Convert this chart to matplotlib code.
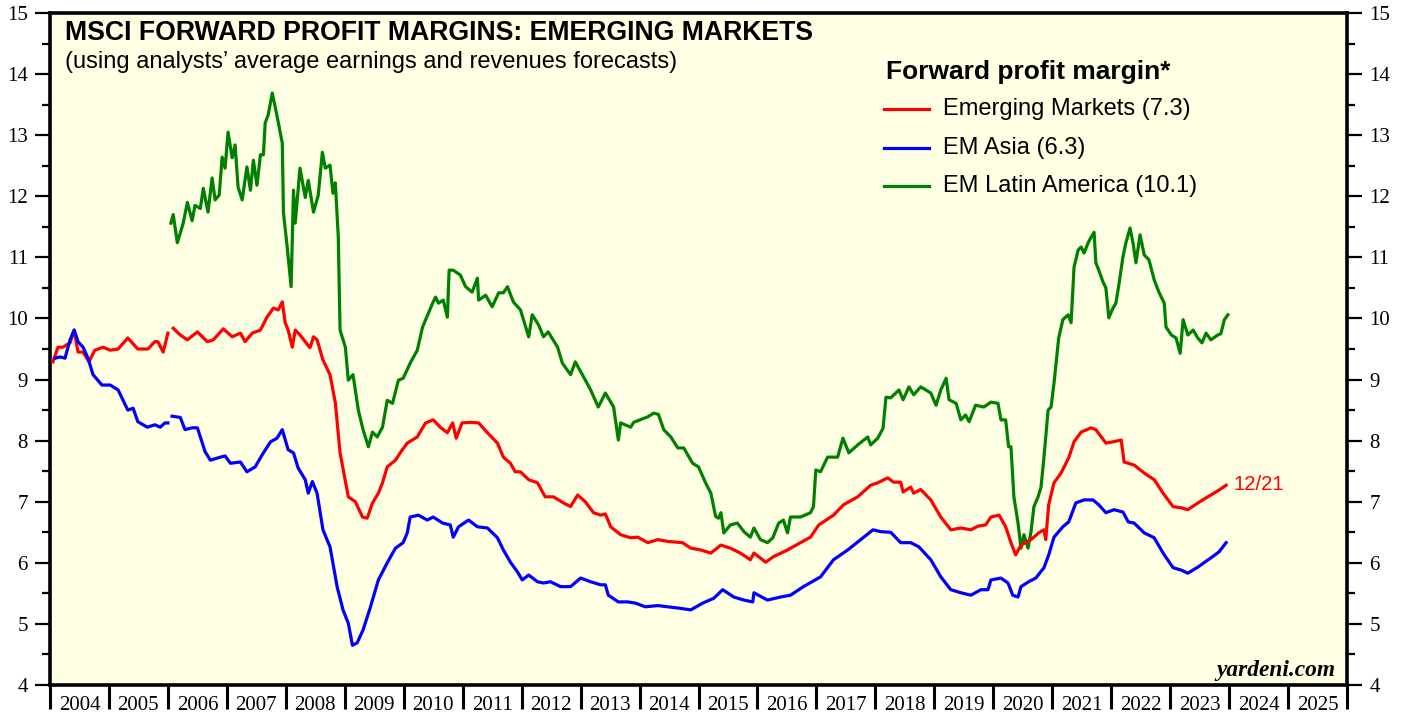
import numpy as np
import matplotlib
matplotlib.use('Agg')
import matplotlib.pyplot as plt
from matplotlib.ticker import MultipleLocator, NullFormatter, FixedLocator, FixedFormatter

em_t = [0.05, 0.136, 0.22, 0.34, 0.41, 0.475, 0.56, 0.66, 0.76, 0.90, 1.02, 1.155, 1.32, 1.49, 1.66, 1.78,
        1.83, 1.92, 2.00, 2.03, 2.09, 2.21, 2.33, 2.50, 2.67, 2.77, 2.94, 3.09, 3.23, 3.31, 3.43, 3.57, 3.68,
        3.79, 3.87, 3.94, 3.99, 4.04, 4.11, 4.16, 4.24, 4.33, 4.41, 4.47, 4.53, 4.63, 4.75, 4.84, 4.92, 5.06,
        5.18, 5.30, 5.38, 5.47, 5.57, 5.64, 5.72, 5.86, 5.94, 6.06, 6.23, 6.37, 6.50, 6.62, 6.74, 6.83, 6.89,
        6.99, 7.13, 7.27, 7.42, 7.59, 7.69, 7.81, 7.89, 7.98, 8.12, 8.27, 8.40, 8.54, 8.71, 8.83, 8.95, 9.08,
        9.22, 9.34, 9.42, 9.51, 9.68, 9.85, 9.97, 10.14, 10.31, 10.48, 10.73, 10.87, 11.04, 11.21, 11.38,
        11.54, 11.71, 11.88, 11.94, 12.14, 12.27, 12.51, 12.73, 12.90, 13.04, 13.29, 13.46, 13.70, 13.92,
        14.04, 14.21, 14.31, 14.43, 14.47, 14.60, 14.65, 14.77, 14.94, 15.11, 15.28, 15.45, 15.62, 15.74,
        15.87, 15.96, 16.10, 16.21, 16.30, 16.38, 16.47, 16.64, 16.77, 16.86, 16.89, 16.94, 17.03, 17.15,
        17.28, 17.37, 17.49, 17.66, 17.74, 17.91, 18.03, 18.17, 18.22, 18.39, 18.56, 18.73, 18.88, 19.05,
        19.19, 19.30, 19.47, 19.69, 19.83, 19.95]
em_v = [9.29, 9.53, 9.53, 9.60, 9.81, 9.45, 9.45, 9.29, 9.48, 9.53, 9.48, 9.50, 9.68, 9.50, 9.50, 9.62,
        9.62, 9.45, 9.76, np.nan, 9.84, 9.73, 9.65, 9.78, 9.62, 9.65, 9.83, 9.70, 9.76, 9.62, 9.76, 9.81, 10.02,
        10.17, 10.14, 10.27, 9.93, 9.81, 9.53, 9.81, 9.73, 9.62, 9.52, 9.70, 9.65, 9.32, 9.08, 8.62, 7.80, 7.08,
        7.00, 6.75, 6.73, 6.98, 7.14, 7.31, 7.57, 7.68, 7.80, 7.96, 8.06, 8.29, 8.34, 8.22, 8.13, 8.29, 8.04,
        8.29, 8.30, 8.29, 8.13, 7.96, 7.73, 7.63, 7.49, 7.49, 7.36, 7.31, 7.08, 7.08, 6.98, 6.92, 7.11, 7.00,
        6.82, 6.78, 6.80, 6.59, 6.46, 6.41, 6.42, 6.33, 6.38, 6.35, 6.33, 6.24, 6.21, 6.16, 6.29,
        6.24, 6.16, 6.05, 6.16, 6.01, 6.10, 6.21, 6.33, 6.42, 6.62, 6.78, 6.95, 7.08, 7.27,
        7.31, 7.39, 7.32, 7.32, 7.16, 7.24, 7.14, 7.20, 7.03, 6.75, 6.54, 6.57, 6.54, 6.60,
        6.62, 6.75, 6.78, 6.59, 6.33, 6.13, 6.29, 6.38, 6.49, 6.54, 6.38, 6.95, 7.31, 7.47,
        7.72, 7.98, 8.14, 8.21, 8.18, 7.96, 7.98, 8.01, 7.65, 7.60, 7.47, 7.36, 7.14, 6.92,
        6.90, 6.87, 6.98, 7.11, 7.19, 7.27]

asia_t = [0.085, 0.17, 0.255, 0.34, 0.41, 0.475, 0.56, 0.645, 0.73, 0.88, 1.02, 1.155, 1.32, 1.41, 1.49,
          1.65, 1.78, 1.87, 1.95, 2.00, 2.03, 2.07, 2.21, 2.29, 2.41, 2.50, 2.63, 2.72, 2.89, 2.97, 3.06, 3.23,
          3.34, 3.48, 3.60, 3.74, 3.85, 3.94, 4.04, 4.13, 4.21, 4.33, 4.38, 4.45, 4.53, 4.63, 4.75, 4.87, 4.97,
          5.06, 5.13, 5.21, 5.31, 5.43, 5.57, 5.72, 5.86, 5.99, 6.06, 6.11, 6.25, 6.40, 6.50, 6.66, 6.79, 6.84,
          6.93, 7.10, 7.25, 7.42, 7.59, 7.69, 7.81, 7.93, 8.01, 8.12, 8.27, 8.37, 8.49, 8.66, 8.83, 9.00, 9.17,
          9.34, 9.42, 9.47, 9.64, 9.80, 9.93, 10.10, 10.31, 10.48, 10.65, 10.87, 11.07, 11.26, 11.41, 11.60,
          11.77, 11.92, 11.94, 12.17, 12.39, 12.56, 12.78, 13.07, 13.29, 13.53, 13.75, 13.96, 14.09, 14.26,
          14.43, 14.60, 14.74, 14.94, 15.11, 15.28, 15.45, 15.62, 15.79, 15.91, 15.96, 16.13, 16.25, 16.33,
          16.42, 16.47, 16.60, 16.72, 16.86, 16.94, 17.03, 17.18, 17.28, 17.40, 17.54, 17.69, 17.79, 17.91,
          18.05, 18.20, 18.29, 18.39, 18.56, 18.73, 18.88, 19.05, 19.19, 19.30, 19.47, 19.69, 19.83, 19.95]
asia_v = [9.35, 9.37, 9.35, 9.65, 9.81, 9.62, 9.53, 9.35, 9.08, 8.91, 8.91, 8.83, 8.50, 8.53, 8.31,
          8.22, 8.26, 8.22, 8.29, 8.29, np.nan, 8.40, 8.38, 8.18, 8.21, 8.21, 7.82, 7.68, 7.73, 7.75, 7.63, 7.65,
          7.49, 7.57, 7.77, 7.98, 8.04, 8.18, 7.85, 7.80, 7.55, 7.36, 7.14, 7.33, 7.14, 6.54, 6.26, 5.61, 5.23,
          5.01, 4.65, 4.69, 4.90, 5.26, 5.72, 6.00, 6.24, 6.33, 6.49, 6.75, 6.78, 6.70, 6.75, 6.65, 6.62, 6.42,
          6.59, 6.70, 6.59, 6.57, 6.41, 6.21, 6.01, 5.85, 5.72, 5.80, 5.69, 5.67, 5.69, 5.61, 5.61, 5.75, 5.69,
          5.64, 5.64, 5.47, 5.36, 5.36, 5.34, 5.28, 5.30, 5.28, 5.26, 5.23, 5.34, 5.42, 5.56, 5.44,
          5.39, 5.36, 5.51, 5.39, 5.44, 5.47, 5.61, 5.77, 6.05, 6.21, 6.38, 6.54, 6.51, 6.50,
          6.33, 6.33, 6.26, 6.05, 5.77, 5.56, 5.51, 5.47, 5.56, 5.56, 5.72, 5.75, 5.67, 5.47,
          5.44, 5.61, 5.69, 5.75, 5.92, 6.13, 6.42, 6.59, 6.67, 6.98, 7.03, 7.03, 6.95, 6.82,
          6.87, 6.83, 6.67, 6.65, 6.49, 6.41, 6.16, 5.92, 5.88, 5.83, 5.93, 6.08, 6.18, 6.33]

latam_t = [2.05, 2.09, 2.16, 2.26, 2.33, 2.41, 2.46, 2.55, 2.60, 2.68, 2.75, 2.80, 2.87, 2.92, 2.97, 3.02,
           3.09, 3.14, 3.19, 3.26, 3.34, 3.40, 3.45, 3.51, 3.57, 3.62, 3.65, 3.70, 3.77, 3.82, 3.87, 3.94, 3.96,
           4.02, 4.09, 4.13, 4.16, 4.24, 4.33, 4.38, 4.47, 4.55, 4.62, 4.67, 4.75, 4.80, 4.84, 4.89, 4.92, 5.01,
           5.06, 5.14, 5.23, 5.31, 5.40, 5.47, 5.55, 5.64, 5.72, 5.81, 5.91, 5.99, 6.11, 6.23, 6.32, 6.49, 6.54,
           6.59, 6.67, 6.74, 6.77, 6.84, 6.96, 7.05, 7.16, 7.25, 7.27, 7.39, 7.50, 7.61, 7.69, 7.76, 7.86, 7.98,
           8.12, 8.18, 8.29, 8.37, 8.45, 8.61, 8.69, 8.83, 8.91, 9.03, 9.17, 9.30, 9.42, 9.56, 9.64, 9.68, 9.85,
           9.90, 10.14, 10.24, 10.32, 10.41, 10.53, 10.65, 10.75, 10.90, 11.00, 11.12, 11.21, 11.29, 11.34,
           11.38, 11.43, 11.54, 11.66, 11.77, 11.88, 11.94, 12.05, 12.17, 12.26, 12.36, 12.44, 12.51, 12.56,
           12.73, 12.90, 12.95, 12.99, 13.07, 13.19, 13.36, 13.45, 13.55, 13.70, 13.87, 13.92, 14.04, 14.13,
           14.18, 14.26, 14.40, 14.47, 14.57, 14.65, 14.77, 14.94, 15.03, 15.11, 15.20, 15.25, 15.37, 15.45,
           15.53, 15.59, 15.70, 15.84, 15.96, 16.08, 16.13, 16.21, 16.26, 16.30, 16.35, 16.42, 16.47, 16.52,
           16.59, 16.64, 16.69, 16.76, 16.81, 16.86, 16.93, 16.98, 17.03, 17.11, 17.18, 17.27, 17.32, 17.37,
           17.44, 17.49, 17.54, 17.61, 17.66, 17.71, 17.74, 17.79, 17.86, 17.91, 17.96, 18.03, 18.08, 18.13,
           18.20, 18.25, 18.32, 18.37, 18.42, 18.49, 18.56, 18.64, 18.73, 18.81, 18.90, 18.93, 19.02, 19.10,
           19.17, 19.22, 19.30, 19.39, 19.47, 19.54, 19.61, 19.69, 19.81, 19.86, 19.92, 19.98]
latam_v = [11.56, 11.70, 11.24, 11.56, 11.90, 11.60, 11.85, 11.80, 12.13, 11.74, 12.30, 11.94, 12.02, 12.64,
           12.46, 13.05, 12.63, 12.84, 12.15, 11.94, 12.48, 12.10, 12.59, 12.18, 12.68, 12.68, 13.20, 13.33,
           13.69, 13.46, 13.22, 12.87, 11.73, 11.20, 10.52, 12.10, 11.56, 12.46, 11.98, 12.26, 11.74, 12.02,
           12.72, 12.46, 12.51, 12.05, 12.22, 11.33, 9.81, 9.53, 8.99, 9.08, 8.50, 8.18, 7.90, 8.14, 8.06, 8.22,
           8.66, 8.61, 8.99, 9.02, 9.27, 9.48, 9.86, 10.25, 10.35, 10.25, 10.30, 10.02, 10.79, 10.79, 10.71,
           10.52, 10.43, 10.66, 10.30, 10.38, 10.19, 10.42, 10.42, 10.52, 10.27, 10.14, 9.70, 10.06, 9.89, 9.70,
           9.78, 9.53, 9.27, 9.08, 9.29, 9.08, 8.83, 8.55, 8.78, 8.55, 8.01, 8.29, 8.22, 8.30, 8.39, 8.45, 8.43,
           8.18, 8.06, 7.88, 7.88, 7.63, 7.57, 7.31, 7.14, 6.76, 6.73, 6.82, 6.49, 6.62, 6.65, 6.51, 6.42, 6.57,
           6.38, 6.33, 6.41, 6.65, 6.70, 6.49, 6.75, 6.75, 6.82, 6.92, 7.52, 7.49, 7.73, 7.73, 8.04, 7.80, 7.93,
           8.06, 7.93, 8.04, 8.20, 8.71, 8.70, 8.83, 8.67, 8.88, 8.75, 8.88, 8.78, 8.58, 8.83, 9.02, 8.67, 8.61,
           8.34, 8.42, 8.31, 8.58, 8.55, 8.63, 8.61, 8.34, 8.34, 7.90, 7.90, 7.08, 6.65, 6.24, 6.46, 6.24, 6.51,
           6.92, 7.08, 7.24, 7.73, 8.50, 8.55, 8.94, 9.68, 9.98, 10.06, 9.93, 10.84, 11.12, 11.17, 11.07, 11.24,
           11.33, 11.41, 10.91, 10.79, 10.60, 10.50, 10.01, 10.17, 10.25, 10.55, 11.01, 11.24, 11.48, 11.24,
           10.91, 11.37, 11.04, 10.96, 10.63, 10.43, 10.25, 9.86, 9.73, 9.68, 9.43, 9.98, 9.73, 9.81, 9.68, 9.60,
           9.76, 9.65, 9.73, 9.75, 9.98, 10.06]

series_labels = ['Emerging Markets (7.3)', 'EM Asia (6.3)', 'EM Latin America (10.1)']
series_colors = ['#ff0000', '#0000ff', '#008000']
year_labels = [str(y) for y in range(2004, 2026)]

BG = '#ffffe3'
SANS = 'Liberation Sans'
SERIF = 'Liberation Serif'


def main():
    fig = plt.figure(figsize=(14.05, 7.17), dpi=100)
    ax = fig.add_axes([50 / 1405, 32 / 717, 1297 / 1405, 672 / 717])
    ax.set_facecolor(BG)

    t_em = 2004 + np.array(em_t)
    t_asia = 2004 + np.array(asia_t)
    t_latam = 2004 + np.array(latam_t)
    ax.plot(t_em, em_v, color=series_colors[0], lw=2.3, zorder=3)
    ax.plot(t_asia, asia_v, color=series_colors[1], lw=2.3, zorder=3)
    ax.plot(t_latam, latam_v, color=series_colors[2], lw=2.3, zorder=2)

    ax.set_xlim(2004, 2026)
    ax.set_ylim(4, 15)

    # y ticks on both sides
    ax.yaxis.set_major_locator(MultipleLocator(1))
    ax.yaxis.set_minor_locator(MultipleLocator(0.5))
    ax.tick_params(axis='y', which='both', left=True, right=True, labelleft=True, labelright=True,
                   direction='out', width=1.6, labelsize=15)
    ax.tick_params(axis='y', which='major', length=11, pad=5)
    ax.tick_params(axis='y', which='minor', length=6)
    for lab in ax.get_yticklabels():
        lab.set_family(SERIF)

    # x: ticks at year boundaries, labels centred in each year
    ax.xaxis.set_major_locator(FixedLocator(range(2004, 2027)))
    ax.xaxis.set_major_formatter(NullFormatter())
    ax.xaxis.set_minor_locator(FixedLocator([y + 0.5 for y in range(2004, 2026)]))
    ax.xaxis.set_minor_formatter(FixedFormatter(year_labels))
    ax.tick_params(axis='x', which='major', direction='out', length=17, width=2.2)
    ax.tick_params(axis='x', which='minor', length=0, labelsize=15, pad=8)
    for lab in ax.get_xticklabels(minor=True):
        lab.set_family(SERIF)

    for s in ax.spines.values():
        s.set_linewidth(2.6)

    # titles
    ax.text(0.0116, 0.970, 'MSCI FORWARD PROFIT MARGINS: EMERGING MARKETS', transform=ax.transAxes,
            family=SANS, fontsize=19.2, fontweight='bold', va='center', ha='left')
    ax.text(0.0116, 0.927, '(using analysts\u2019 average earnings and revenues forecasts)',
            transform=ax.transAxes, family=SANS, fontsize=17, va='center', ha='left')

    # legend drawn by hand
    ax.text(0.6446, 0.912, 'Forward profit margin*', transform=ax.transAxes, family=SANS,
            fontsize=19, fontweight='bold', va='center', ha='left')
    rows = [0.857, 0.799, 0.7426]
    for y, lab, col in zip(rows, series_labels, series_colors):
        ax.plot([0.643, 0.6777], [y, y], transform=ax.transAxes, color=col, lw=2.3)
        ax.text(0.6885, y, lab, transform=ax.transAxes, family=SANS, fontsize=17,
                va='center', ha='left')

    ax.text(2024.08, 7.28, '12/21', color=series_colors[0], family=SANS, fontsize=14.6,
            va='center', ha='left')
    ax.text(0.9907, 0.0223, 'yardeni.com', transform=ax.transAxes, family=SERIF, fontsize=16.8,
            fontweight='bold', style='italic', va='center', ha='right')

    fig.savefig('out.png', dpi=100, facecolor='white')


if __name__ == '__main__':
    main()
